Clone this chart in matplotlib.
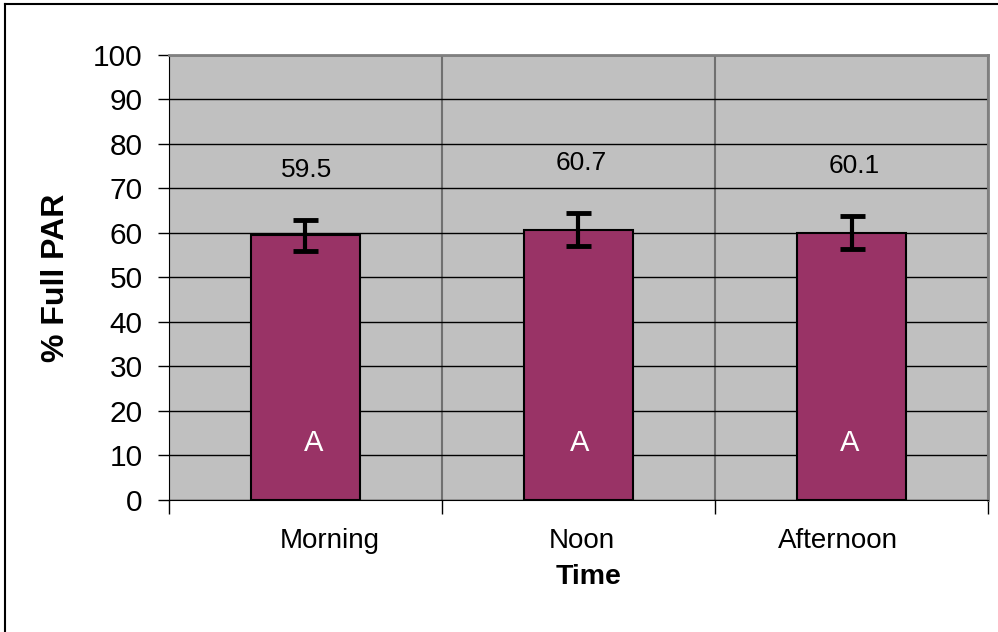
import matplotlib
matplotlib.use("Agg")
import matplotlib.pyplot as plt
import matplotlib.transforms as mtransforms
from matplotlib.lines import Line2D

plt.rcParams["font.family"] = ["Liberation Sans", "DejaVu Sans"]

times = ["Morning", "Noon", "Afternoon"]
par = [59.5, 60.7, 60.1]
par_err = [3.5, 3.7, 3.7]
letters = ["A", "A", "A"]
letter_y = 12.8

# small horizontal nudges (pixels) of the text, as placed in the original
tick_shift = [24, 3, -14]
letter_shift = [8, 1, -2]
value_shift = [1, 3, 3]

fig = plt.figure(figsize=(9.98, 6.32), dpi=100)
ax = fig.add_axes([0.1693, 0.2089, 0.8207, 0.7041])
ax.set_facecolor("#C0C0C0")

x = list(range(len(times)))
ax.bar(x, par, width=0.4, color="#993366", edgecolor="black", linewidth=1.5, zorder=3)
ax.errorbar(x, par, yerr=par_err, fmt="none", ecolor="black", elinewidth=3,
            capsize=9, capthick=3.5, zorder=4)

for i, (xi, v, e, lab) in enumerate(zip(x, par, par_err, letters)):
    ax.annotate(f"{v:.1f}", (xi, v + e), xytext=(value_shift[i] * 0.72, 36),
                textcoords="offset points", ha="center", va="center", fontsize=19)
    ax.annotate(lab, (xi, letter_y), xytext=(letter_shift[i] * 0.72, 0),
                textcoords="offset points", ha="center", va="center",
                color="white", fontsize=21, zorder=5)

ax.set_xlim(-0.5, 2.5)
ax.set_ylim(0, 100)
ax.set_yticks(range(0, 101, 10))
ax.set_xticks(x)
ax.set_xticklabels(times)
ax.set_xticks([-0.5, 0.5, 1.5, 2.5], minor=True)

ax.yaxis.grid(True, color="black", linewidth=1, zorder=1)
ax.xaxis.grid(True, which="minor", color="#707070", linewidth=1.5, zorder=1)
ax.set_axisbelow(True)

ax.tick_params(axis="y", direction="out", length=8, width=1, pad=11, labelsize=21.5)
ax.tick_params(axis="x", which="major", length=0, pad=20, labelsize=20)
ax.tick_params(axis="x", which="minor", direction="out", length=10, width=1)

for lbl, dx in zip(ax.get_xticklabels(), tick_shift):
    lbl.set_transform(lbl.get_transform() +
                      mtransforms.ScaledTranslation(dx / 100, 0, fig.dpi_scale_trans))

for s in ["top", "right"]:
    ax.spines[s].set_color("#808080")
    ax.spines[s].set_linewidth(2)
ax.spines["left"].set_color("black")
ax.spines["bottom"].set_color("black")

ax.set_xlabel("Time", fontsize=20.5, fontweight="bold")
ax.xaxis.set_label_coords(0.512, -0.143)
ax.set_ylabel("% Full PAR", fontsize=23, fontweight="bold", labelpad=16)

# outer chart frame (only top and left edges show)
fig.add_artist(Line2D([0.005, 1.0], [1 - 4 / 632, 1 - 4 / 632], color="black", linewidth=1.5,
                      transform=fig.transFigure))
fig.add_artist(Line2D([5 / 998, 5 / 998], [0, 1 - 4 / 632], color="black", linewidth=1.5,
                      transform=fig.transFigure))

fig.savefig("out.png", dpi=100)
